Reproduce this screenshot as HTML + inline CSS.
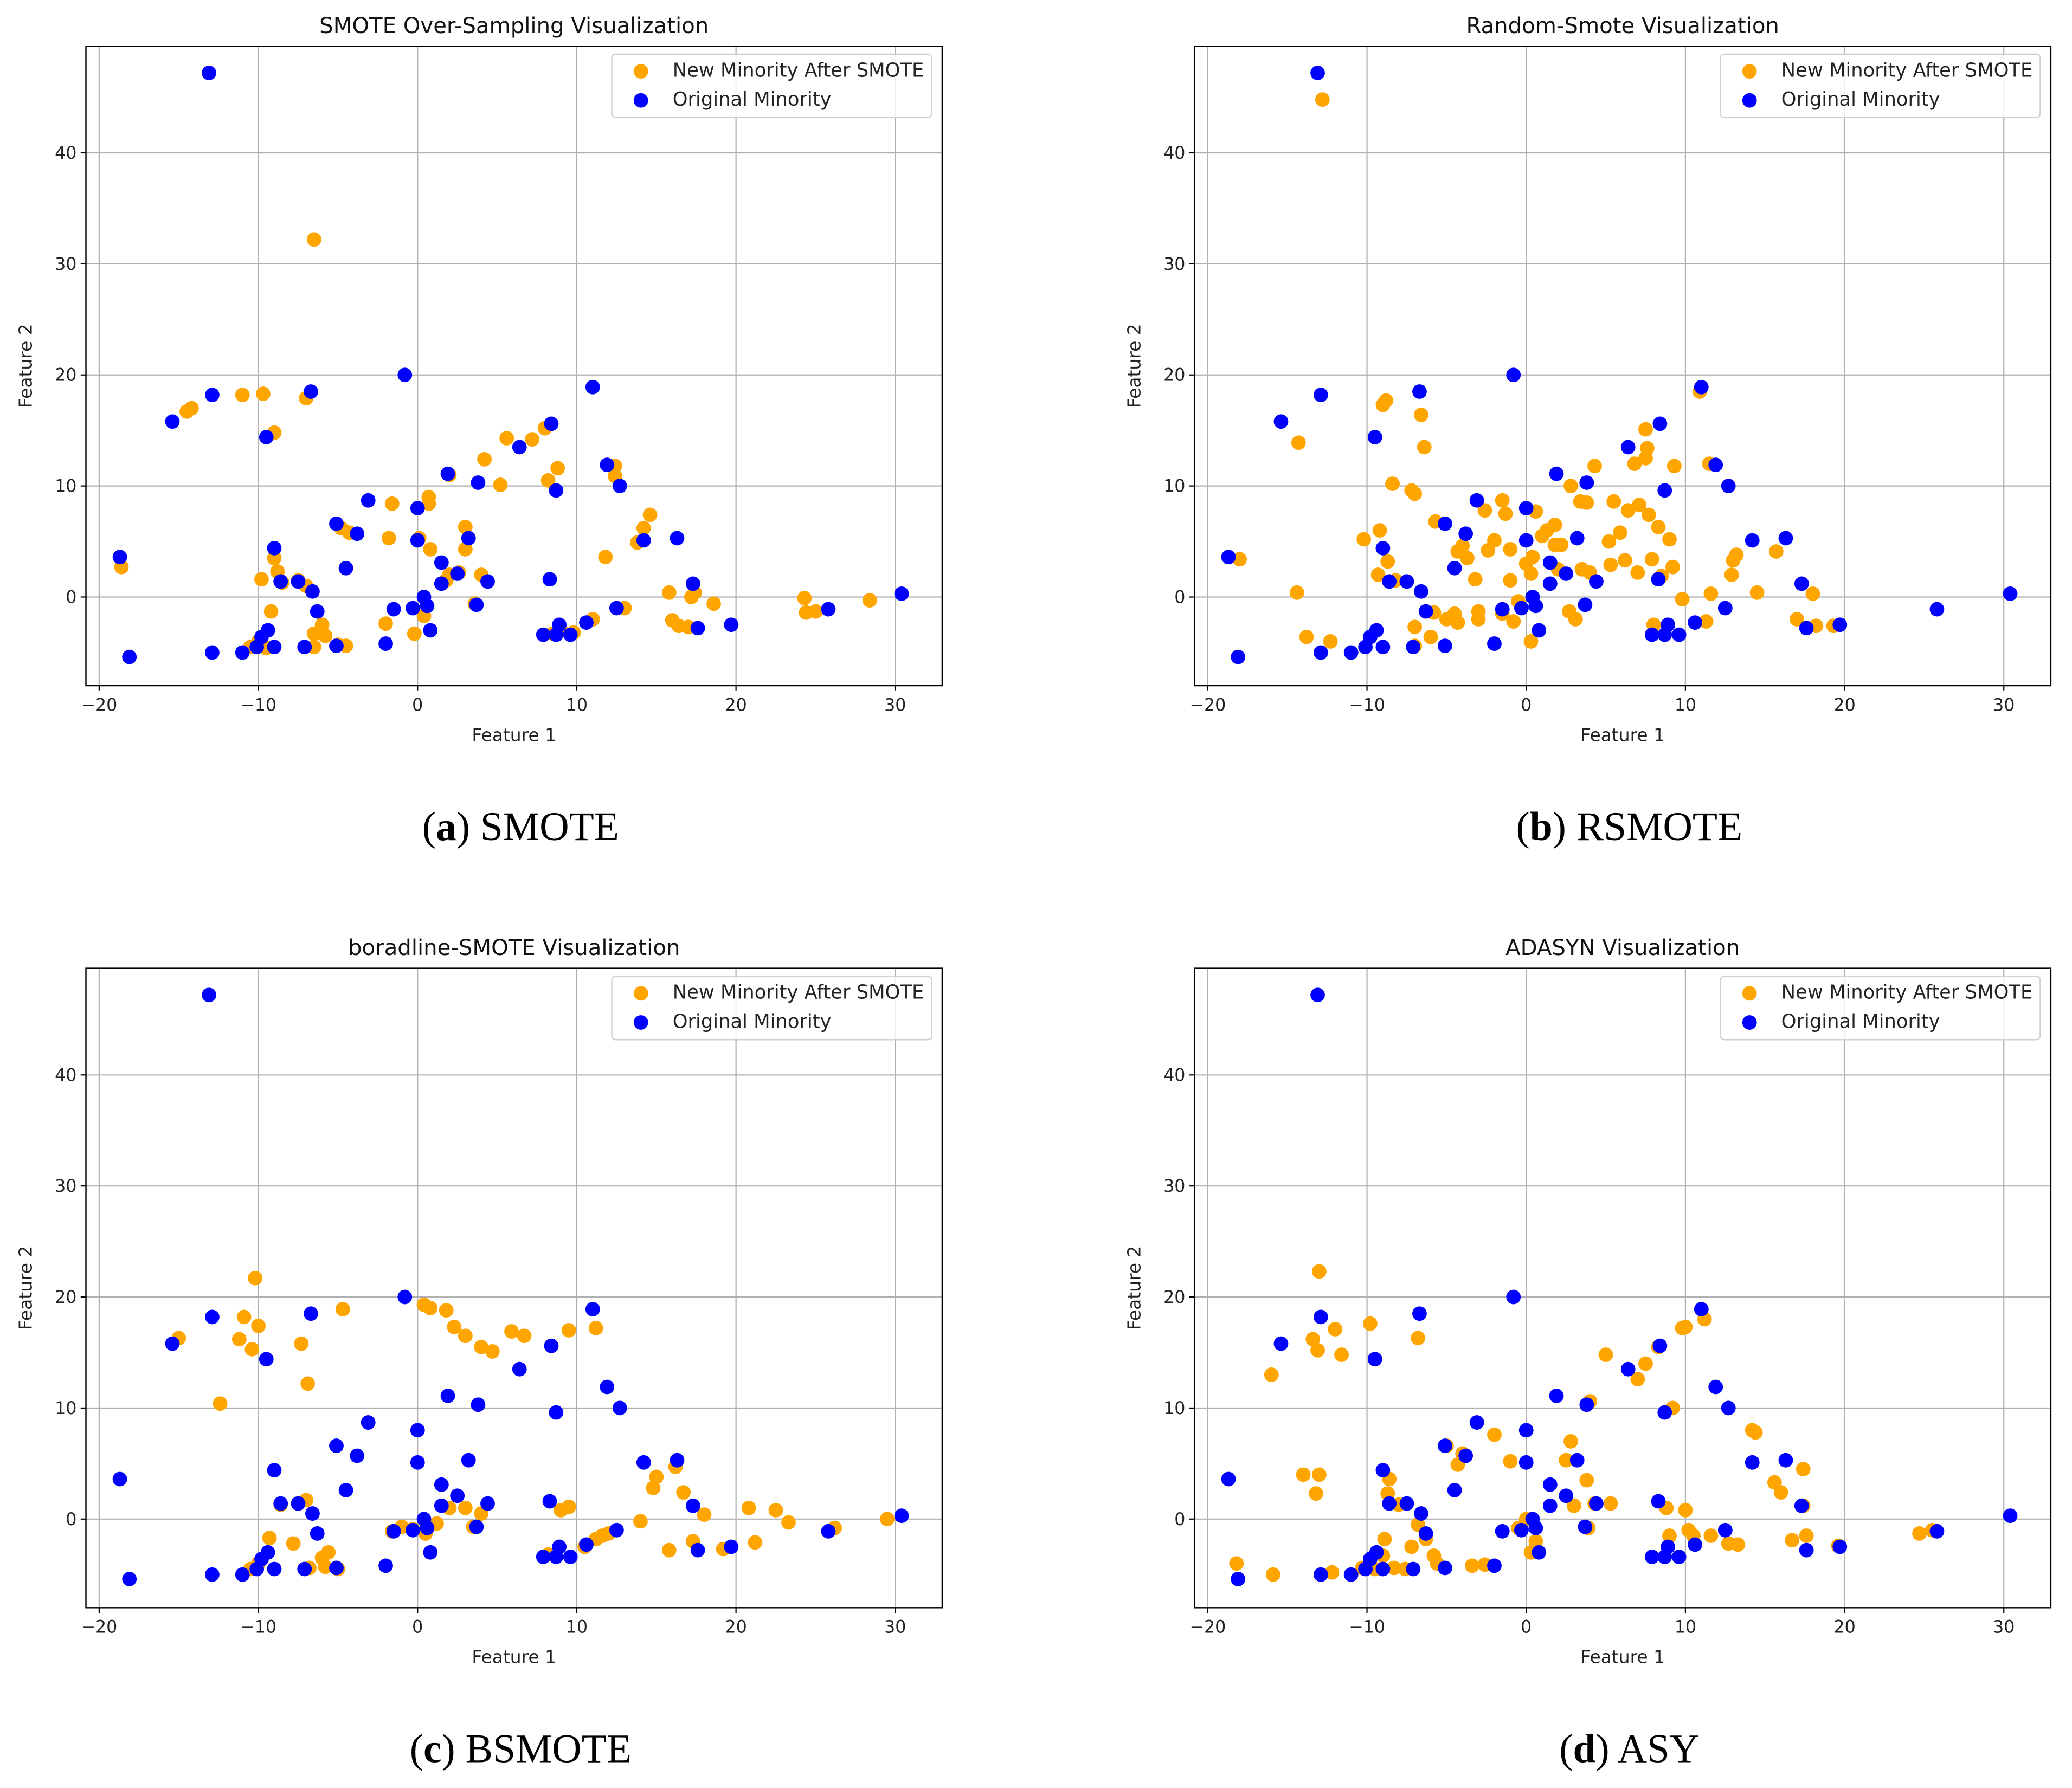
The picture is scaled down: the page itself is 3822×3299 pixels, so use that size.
<!DOCTYPE html>
<html><head><meta charset="utf-8"><style>
html,body{margin:0;padding:0;background:#fff;}
svg{display:block;}
text{font-family:"DejaVu Sans","Liberation Sans",sans-serif;}
.cap{font-family:"Liberation Serif",serif;}
</style></head><body>
<svg id="root" xmlns="http://www.w3.org/2000/svg" width="3822" height="3299" viewBox="0 0 1568 1353.5"></svg>
<script>
const blueX=[-18.7,-18.1,-13.1,-12.9,-12.9,-15.4,-9.5,-9,-8.6,-7.5,-6.6,-6.3,-6.7,-7.1,-11,-10.1,-9.8,-9.4,-9,-5.1,-5.1,-4.5,-3.8,-3.1,-2,-1.5,-0.8,-0.3,0,0,0.4,0.6,0.8,1.5,1.5,1.9,2.5,3.2,3.7,3.8,4.4,6.4,8.4,8.3,8.7,8.9,8.7,7.9,9.6,10.6,11,11.9,12.7,12.5,14.2,16.3,17.3,17.6,19.7,25.8,30.4];
const blueY=[3.6,-5.4,47.2,18.2,-5,15.8,14.4,4.4,1.4,1.4,0.5,-1.3,18.5,-4.5,-5,-4.5,-3.6,-3,-4.5,6.6,-4.4,2.6,5.7,8.7,-4.2,-1.1,20,-1,5.1,8,0,-0.8,-3,3.1,1.2,11.1,2.1,5.3,-0.7,10.3,1.4,13.5,15.6,1.6,9.6,-2.5,-3.4,-3.4,-3.4,-2.3,18.9,11.9,10,-1,5.1,5.3,1.2,-2.8,-2.5,-1.1,0.3];
const aX=[-18.6,-14.5,-14.2,-11,-9.7,-9,-7,-6.5,-9.8,-9,-8.8,-8.5,-9.2,-7.5,-7,-6.5,-6.5,-6,-5.8,-5,-4.5,-4.8,-4.3,-10.5,-10,-9.5,-1.8,-1.6,-2,-0.2,0.1,0.4,0.7,0.7,0.8,2,2,3,3,4,4.2,5.2,5.6,7.2,8,8.2,8.8,8.5,9,9.8,11,11.8,12.4,12.4,13,13.8,14.2,14.6,15.8,16,16.4,17,17.2,17.4,18.6,24.3,24.4,25,28.4,1.8,2.6,3.6];
const aY=[2.7,16.7,17,18.2,18.3,14.8,17.9,32.2,1.6,3.5,2.3,1.3,-1.3,1.5,1,-3.3,-4.5,-2.5,-3.5,-4.3,-4.4,6.2,5.8,-4.5,-4,-4.6,5.3,8.4,-2.4,-3.3,5.3,-1.7,8.4,9,4.3,11,2,4.3,6.3,2,12.4,10.1,14.3,14.2,15.2,10.5,11.6,-3.3,-3,-3.2,-2,3.6,11.8,10.9,-1,4.9,6.2,7.4,0.4,-2.1,-2.6,-2.7,0,0.4,-0.6,-0.1,-1.4,-1.3,-0.3,1.5,2.2,-0.6];
const bX=[-18,-14.3,-14.4,-13.8,-12.8,-12.3,-10.2,-9.2,-9,-8.8,-8.4,-7.2,-7,-6.6,-6.4,-9.3,-8.7,-8.2,-7,-7,-6,-5.8,-5,-4.3,-4.3,-4,-3.7,-3.2,-3,-2.6,-2.4,-2,-1.5,-1.3,-1,-1,-0.8,-0.5,0.3,0.3,0.4,0.6,1,1.3,1.8,2.2,2.7,2.8,3.1,3.4,3.5,3.8,4,4.3,5.2,5.3,5.5,5.9,6.2,6.4,6.8,7,7.1,7.5,7.6,7.5,7.7,7.9,8,8.3,8.5,9,9.2,9.3,9.8,10.9,11.3,11.5,11.6,12.9,13,13.2,14.5,15.7,17,18,18.2,19.3,-1.5,-3,0,2,-4.5,-5.7,1.8];
const bY=[3.4,13.9,0.4,-3.6,44.8,-4,5.2,6,17.3,17.7,10.2,9.6,9.3,16.4,13.5,2,3.2,1.5,-2.7,-4.4,-3.6,-1.4,-2,-2.3,4.1,4.6,3.5,1.6,-1.3,7.8,4.2,5.1,8.7,7.5,4.3,1.5,-2.2,-0.4,-4,2.1,3.6,7.7,5.5,6,6.5,4.7,-1.3,10,-2,8.6,2.5,8.5,2.2,11.8,5,2.9,8.6,5.8,3.3,7.8,12,2.2,8.3,15.1,13.4,12.5,7.4,3.4,-2.5,6.3,1.9,5.2,2.7,11.8,-0.2,18.5,-2.2,12,0.3,2,3.3,3.8,0.4,4.1,-2,0.3,-2.6,-2.6,-1.5,-2,3,2.5,-1.5,6.8,4.7];
const cX=[-15,-12.4,-11.2,-10.9,-10.4,-10.2,-10,-7.3,-6.9,-4.7,0.4,0.8,1.8,2.3,3,4,4.7,5.9,6.7,9.5,11.2,-9.3,-8.6,-7.8,-7.5,-7,-6.8,-5.6,-5.8,-5,-10.5,-10,-6,-1.6,-1,-0.3,0.5,1.2,2,3,3.5,4,8.2,9,9.5,10.5,11.2,11.6,12,14,14.8,15,15.8,16.2,16.7,17.3,18,19.2,20.8,21.2,22.5,23.3,26.2,29.5];
const cY=[16.3,10.4,16.2,18.2,15.3,21.7,17.4,15.8,12.2,18.9,19.3,19,18.8,17.3,16.5,15.5,15.1,16.9,16.5,17,17.2,-1.7,1.3,-2.2,1.4,1.7,-4.4,-3,-4.3,-4.5,-4.5,-4,-3.5,-1.1,-0.7,-0.9,-1.3,-0.4,1,1,-0.7,0.5,-3.2,0.8,1.1,-2.5,-1.8,-1.5,-1.3,-0.2,2.8,3.8,-2.8,4.7,2.4,-2,0.4,-2.7,1,-2.1,0.8,-0.3,-0.8,0];
const dX=[-18.2,-16,-15.9,-14,-13.4,-13,-13.1,-13,-13.2,-12,-11.6,-12.2,-10.3,-9.8,-9.5,-9,-8.9,-8.6,-8.7,-8.3,-8,-7.6,-7.2,-6.8,-6.8,-6.3,-5.8,-5.6,-5,-4.3,-4,-3.4,-2.6,-2,-1,0,-0.5,0.3,0.6,2.5,2.8,3,3.8,3.8,3.9,4,4.3,5,5.3,7,7.5,8.3,8.8,9,9.2,9.8,10,10,10.2,10.5,11.2,11.6,12.7,13.3,14.2,14.4,15.6,16,16.7,17.4,17.4,17.6,24.7,25.5,19.6];
const dY=[-4,13,-5,4,16.2,22.3,15.2,4,2.3,17.1,14.8,-4.8,-4.4,17.6,-4.5,-3.3,-1.8,3.6,2.3,-4.4,1.3,-4.5,-2.5,16.3,-0.5,-1.8,-3.3,-4,6.6,4.9,5.9,-4.2,-4.1,7.6,5.2,0,-0.8,-3,-2,5.3,7,1.2,3.5,10.3,-0.8,10.6,1.4,14.8,1.4,12.6,14,15.5,1,-1.5,10,17.2,17.3,0.8,-1,-1.5,18,-1.5,-2.2,-2.3,8,7.8,3.3,2.4,-1.9,4.5,1.2,-1.5,-1.3,-1,-2.4];
const xTicks=[-20,-10,0,10,20,30];
const yTicks=[0,10,20,30,40];
const titles=["SMOTE Over-Sampling Visualization","Random-Smote Visualization","boradline-SMOTE Visualization","ADASYN Visualization"];
const capLetters=["a","b","c","d"];
const capNames=["SMOTE","RSMOTE","BSMOTE","ASY"];
const orangeX=[aX,bX,cX,dX], orangeY=[aY,bY,cY,dY];

const NS="http://www.w3.org/2000/svg";
const root=document.getElementById('root');
function mk(tag,attrs,parent){const e=document.createElementNS(NS,tag);for(const k in attrs)e.setAttribute(k,attrs[k]);(parent||root).appendChild(e);return e;}
const XMIN=-20.83,XMAX=32.95,YMIN=-7.98,YMAX=49.6;
const offs=[[0,0],[839,0],[0,698],[839,698]];
for(let p=0;p<4;p++){
  const ox=offs[p][0],oy=offs[p][1];
  const L=65+ox,R=713+ox,T=35+oy,B=519+oy;
  const sx=v=>L+(v-XMIN)/(XMAX-XMIN)*(R-L);
  const sy=v=>B-(v-YMIN)/(YMAX-YMIN)*(B-T);
  const g=mk('g',{});
  
  
  const grid=mk('g',{},g);
  
  
  xTicks.forEach(t=>{const x=sx(t);
    mk('line',{x1:x,x2:x,y1:T,y2:B,stroke:'#b0b0b0','stroke-width':0.9},grid);
    mk('line',{x1:x,x2:x,y1:B,y2:B+4,stroke:'#000','stroke-width':0.9},g);
    const tx=mk('text',{x:x,y:B+19,'font-size':13,'text-anchor':'middle',fill:'#222'},g);
    tx.textContent=(t<0?'\u2212'+(-t):t);
    
    });
  yTicks.forEach(t=>{const y=sy(t);
    mk('line',{x1:L,x2:R,y1:y,y2:y,stroke:'#b0b0b0','stroke-width':0.9},grid);
    mk('line',{x1:L-4,x2:L,y1:y,y2:y,stroke:'#000','stroke-width':0.9},g);
    const tx=mk('text',{x:L-7,y:y+4.5,'font-size':13,'text-anchor':'end',fill:'#222'},g);
    tx.textContent=t;
    
    });
  const ox_=orangeX[p],oy_=orangeY[p];
  for(let i=0;i<ox_.length;i++){
    const c=mk('circle',{cx:sx(ox_[i]),cy:sy(oy_[i]),r:5.5,fill:'#ffa500'},g);
    
    }
  for(let i=0;i<blueX.length;i++){
    const c=mk('circle',{cx:sx(blueX[i]),cy:sy(blueY[i]),r:5.5,fill:'#0000ff'},g);
    
    }
  const fr=mk('rect',{x:L,y:T,width:R-L,height:B-T,fill:'none',stroke:'#000','stroke-width':1},g);
  
  
  const lg=mk('g',{},g);
  
  
  mk('rect',{x:463+ox,y:41+oy,width:242,height:48,rx:3,fill:'#fff','fill-opacity':0.8,stroke:'#d0d0d0','stroke-width':1},lg);
  mk('circle',{cx:485+ox,cy:54+oy,r:5.5,fill:'#ffa500'},lg);
  mk('circle',{cx:485+ox,cy:76+oy,r:5.5,fill:'#0000ff'},lg);
  const l1=mk('text',{x:509+ox,y:58+oy,'font-size':14.5,fill:'#222'},lg);l1.textContent='New Minority After SMOTE';
  
  
  const l2=mk('text',{x:509+ox,y:80+oy,'font-size':14.5,fill:'#222'},lg);l2.textContent='Original Minority';
  
  
  const ti=mk('text',{x:(L+R)/2,y:25+oy,'font-size':16.5,'text-anchor':'middle',fill:'#111'},g);ti.textContent=titles[p];
  
  
  const xl=mk('text',{x:(L+R)/2,y:561+oy,'font-size':13.5,'text-anchor':'middle',fill:'#222'},g);xl.textContent='Feature 1';
  
  
  const yl=mk('text',{x:0,y:0,'font-size':13.5,'text-anchor':'middle',fill:'#222',transform:`translate(${24+ox},${(T+B)/2}) rotate(-90)`},g);yl.textContent='Feature 2';
  
  
  const cp=mk('text',{x:(L+R)/2+5,y:636+oy,'font-size':31,'text-anchor':'middle',fill:'#000',class:'cap'},g);
  cp.innerHTML='(<tspan font-weight="bold">'+capLetters[p]+'</tspan>) '+capNames[p];
  
  
}
</script>
</body></html>
